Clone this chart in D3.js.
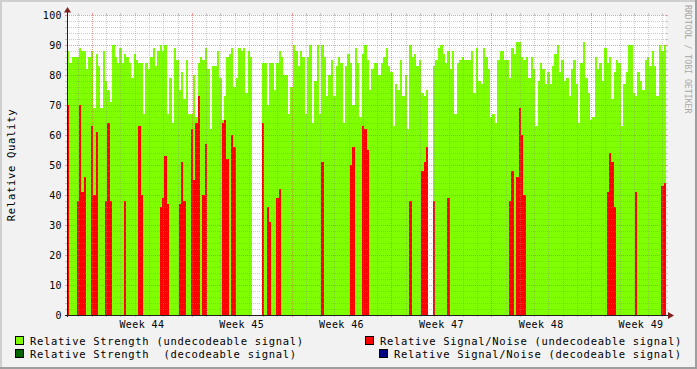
<!DOCTYPE html>
<html>
<head>
<meta charset="utf-8">
<script src="https://cdn.jsdelivr.net/npm/d3@7/dist/d3.min.js"></script>
<style>
  body { margin: 0; background: #f2f2f2; }
  text { font-family: "DejaVu Sans Mono", monospace; }
</style>
</head>
<body>
<div id="chart"></div>
<script>
// relative strength, undecodeable signal: one value every 4 hours, one row per week
var strength = [
  88,84,86,86,86,89,88,88,82,86, 88,69,87,83,69,88,78,75,71,90, 86,84,89,84,87,86,84,79,87,85, 84,84,67,84,82,86,89,83,88,90, 88,90,
  67,79,64,89,85,75,81,72,85,67, 67,80,66,84,86,85,89,82,62,83, 83,88,79,65,73,86,87,89,76,79, 89,88,89,74,88,86,null,null,null,null, 84,84,
  70,84,84,75,84,88,86,80,80,67, 76,90,88,83,88,86,67,86,90,64, 78,90,67,90,86,73,80,85,73,83, 86,84,64,83,87,84,70,89,84,66, 87,90,
  85,75,82,84,84,80,84,86,89,83, 81,63,77,75,85,73,80,62,90,86, 87,83,85,74,73,75,null,null,83,85, 89,90,87,84,88,82,88,67,84,85, 86,85,
  85,85,88,74,89,78,77,89,86,82, 66,67,64,85,88,88,85,85,79,89, 87,91,91,86,85,86,79,86,82,63, 78,84,82,77,81,77,83,87,90,81, 85,78,
  79,73,82,85,77,64,84,91,79,74, 65,66,86,82,84,78,89,84,86,72, 81,85,84,63,77,81,90,90,74,73, 81,78,75,85,86,83,88,83,73,90, 88,90
];

// relative signal/noise, undecodeable signal: [sample index, value], zero elsewhere
var snrSpikes = [
  [0,70],[4,38],[5,70],[6,41],[7,46],[10,63],[11,40],[12,61],[16,38],[17,64],[18,38],
  [24,38],[30,63],[31,40],[39,36],[40,39],[41,53],[42,37],[47,37],[48,51],[49,38],
  [52,62],[53,45],[54,64],[55,73],[57,40],[58,57],[65,64],[66,65],[67,52],[69,60],[70,56],
  [82,64],[84,36],[85,31],[88,39],[89,42],[107,51],[119,50],[120,56],[124,63],[125,62],[126,55],
  [144,38],[149,48],[150,51],[151,56],[154,38],[160,39],[186,38],[187,48],[189,46],[190,69],
  [191,60],[192,40],[227,41],[228,54],[229,51],[230,36],[239,41],[250,43],[251,44]
];

// decodeable signal series (nothing in this period)
var strengthDecodeable = [];
var snrDecodeable = [];

var yTickValues = [0, 10, 20, 30, 40, 50, 60, 70, 80, 90, 100];

var legendNames = [
  "Relative Strength (undecodeable signal)",
  "Relative Signal/Noise (undecodeable signal)",
  "Relative Strength  (decodeable signal)",
  "Relative Signal/Noise (decodeable signal)"
];
var legendColors = ["#80ff00", "#ff0000", "#006400", "#000080"];

var W = 697, H = 369;
var plotLeft = 67, plotRight = 666, plotTop = 15, plotBottom = 315;
var t0 = Date.UTC(2009, 9, 24, 6);
var step = 4 * 3600 * 1000;
var tEnd = t0 + strength.length * step;

var x = d3.scaleUtc().domain([t0, tEnd]).range([plotLeft, plotRight]);
var y = d3.scaleLinear().domain([0, 100]).range([plotBottom, plotTop]);

var gridCol = "rgba(143,143,143,0.45)";
var mgridCol = "rgba(222,79,79,0.55)";

var svg = d3.select("#chart").append("svg")
  .attr("width", W)
  .attr("height", H)
  .attr("shape-rendering", "crispEdges");

svg.append("rect").attr("width", W).attr("height", H).attr("fill", "#f2f2f2");
// frame shading
svg.append("rect").attr("x", 0).attr("y", 0).attr("width", W).attr("height", 2).attr("fill", "#cfcfcf");
svg.append("rect").attr("x", 0).attr("y", 0).attr("width", 2).attr("height", H).attr("fill", "#cfcfcf");
svg.append("rect").attr("x", 0).attr("y", H - 2).attr("width", W).attr("height", 2).attr("fill", "#9e9e9e");
svg.append("rect").attr("x", W - 2).attr("y", 0).attr("width", 2).attr("height", H).attr("fill", "#9e9e9e");

svg.append("rect")
  .attr("x", plotLeft).attr("y", plotTop)
  .attr("width", plotRight - plotLeft).attr("height", plotBottom - plotTop)
  .attr("fill", "#ffffff");

function drawBars(data, color) {
  svg.append("g").selectAll("rect")
    .data(data)
    .enter().append("rect")
    .attr("x", function(d) { return Math.round(x(d.t)); })
    .attr("width", function(d) { return Math.round(x(d.t + step)) - Math.round(x(d.t)); })
    .attr("y", function(d) { return Math.round(y(d.v)); })
    .attr("height", function(d) { return plotBottom - Math.round(y(d.v)); })
    .attr("fill", color);
}

drawBars(strength.map(function(v, i) { return {t: t0 + i * step, v: v}; })
  .filter(function(d) { return d.v != null; }), legendColors[0]);
drawBars(snrSpikes.map(function(d) { return {t: t0 + d[0] * step, v: d[1]}; }), legendColors[1]);
drawBars(strengthDecodeable.map(function(d) { return {t: t0 + d[0] * step, v: d[1]}; }), legendColors[2]);
drawBars(snrDecodeable.map(function(d) { return {t: t0 + d[0] * step, v: d[1]}; }), legendColors[3]);

// grid
var grid = svg.append("g");
var days = d3.utcDay.range(new Date(t0), new Date(tEnd));
var mondays = d3.utcMonday.range(new Date(t0), new Date(tEnd));
var hVals = d3.range(0, 101, 2);

hVals.forEach(function(v) {
  var major = v % 10 === 0;
  var yy = Math.round(y(v)) + 0.5;
  var c = major ? mgridCol : gridCol;
  if (v > 0) {
    grid.append("line").attr("x1", plotLeft).attr("x2", plotRight).attr("y1", yy).attr("y2", yy)
      .attr("stroke", c).attr("stroke-dasharray", "1,1");
  }
  grid.append("line").attr("x1", plotLeft - 2).attr("x2", plotLeft).attr("y1", yy).attr("y2", yy).attr("stroke", c);
  grid.append("line").attr("x1", plotRight).attr("x2", plotRight + 2).attr("y1", yy).attr("y2", yy).attr("stroke", c);
});

days.forEach(function(d) {
  var major = d.getUTCDay() === 1;
  var xx = Math.round(x(d)) + 0.5;
  var c = major ? mgridCol : gridCol;
  grid.append("line").attr("x1", xx).attr("x2", xx).attr("y1", plotTop).attr("y2", plotBottom)
    .attr("stroke", c).attr("stroke-dasharray", "1,1");
  grid.append("line").attr("x1", xx).attr("x2", xx).attr("y1", plotBottom).attr("y2", plotBottom + 2).attr("stroke", c);
  grid.append("line").attr("x1", xx).attr("x2", xx).attr("y1", plotTop - 2).attr("y2", plotTop).attr("stroke", c);
});

// axes
svg.append("line").attr("x1", plotLeft + 0.5).attr("x2", plotLeft + 0.5).attr("y1", plotBottom + 2).attr("y2", 10)
  .attr("stroke", "#1f1f1f");
svg.append("line").attr("x1", plotLeft - 2).attr("x2", plotRight + 3).attr("y1", plotBottom + 0.5).attr("y2", plotBottom + 0.5)
  .attr("stroke", "#1f1f1f");
svg.append("path").attr("d", "M64,12.5 L71,12.5 L67.5,7 Z").attr("fill", "#801f1f")
  .attr("shape-rendering", "auto");
svg.append("path").attr("d", "M668,312 L668,319 L674,315.5 Z").attr("fill", "#801f1f")
  .attr("shape-rendering", "auto");

// y labels
svg.append("g").selectAll("text")
  .data(yTickValues)
  .enter().append("text")
  .attr("x", 62)
  .attr("y", function(d) { return y(d) + 4; })
  .attr("text-anchor", "end")
  .attr("font-size", "10px")
  .attr("letter-spacing", "0.4px")
  .attr("fill", "#000")
  .text(function(d) { return d; });

// week labels
var weekFmt = d3.utcFormat("%V");
svg.append("g").selectAll("text")
  .data(mondays.filter(function(m) { return x(+m + 3.5 * 864e5) < plotRight; }))
  .enter().append("text")
  .attr("x", function(d) { return x(+d + 3.5 * 864e5); })
  .attr("y", 328)
  .attr("text-anchor", "middle")
  .attr("font-size", "10px")
  .attr("letter-spacing", "0.4px")
  .attr("fill", "#000")
  .text(function(d) { return "Week " + weekFmt(d); });

// y title
svg.append("text")
  .attr("transform", "translate(15,165) rotate(-90)")
  .attr("text-anchor", "middle")
  .attr("font-size", "10.5px")
  .attr("letter-spacing", "0.7px")
  .attr("fill", "#000")
  .text("Relative Quality");

// watermark
svg.append("text")
  .attr("transform", "translate(685,5) rotate(90)")
  .attr("font-size", "8.2px")
  .attr("letter-spacing", "0px")
  .attr("fill", "#a8a8a8")
  .text("RRDTOOL / TOBI OETIKER");

// legend
var legendPos = [
  {bx: 15, tx: 30, y: 345},
  {bx: 365, tx: 380, y: 345},
  {bx: 15, tx: 30, y: 358},
  {bx: 379, tx: 394, y: 358}
];
var lg = svg.append("g").selectAll("g")
  .data(legendNames)
  .enter().append("g");
lg.append("rect")
  .attr("x", function(d, i) { return legendPos[i].bx + 0.5; })
  .attr("y", function(d, i) { return legendPos[i].y - 8.5; })
  .attr("width", 8).attr("height", 8)
  .attr("fill", function(d, i) { return legendColors[i]; })
  .attr("stroke", "#000");
lg.append("text")
  .attr("x", function(d, i) { return legendPos[i].tx; })
  .attr("y", function(d, i) { return legendPos[i].y; })
  .attr("font-size", "10.5px")
  .attr("letter-spacing", "0.7px")
  .attr("fill", "#000")
  .style("white-space", "pre")
  .text(function(d) { return d; });
</script>
</body>
</html>
